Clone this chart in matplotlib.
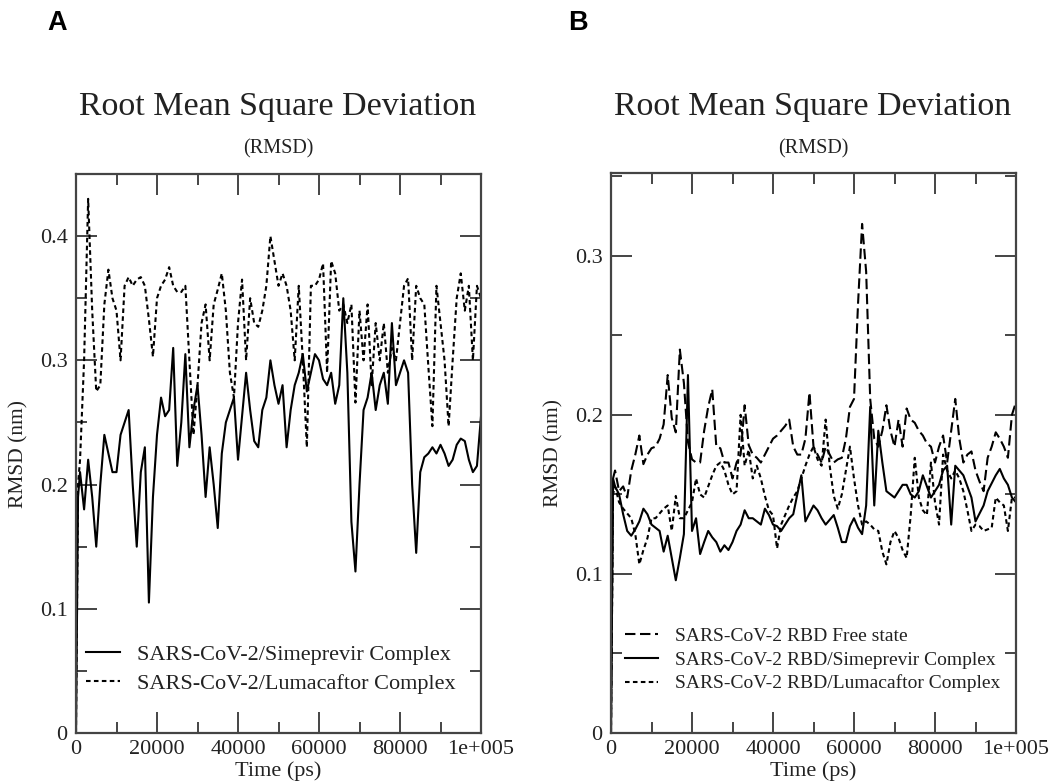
import matplotlib
matplotlib.use("Agg")
import matplotlib.pyplot as plt
from matplotlib.ticker import MultipleLocator, FixedLocator, FixedFormatter

plt.rcParams['font.family'] = ['Liberation Serif', 'DejaVu Serif']

# ---------------- data ----------------
time_ps = [0, 500] + [1000 * k for k in range(1, 101)]

# Panel A
rmsd_simeprevir_A = [
    0.0, 0.19, 0.21, 0.18, 0.22, 0.19, 0.15, 0.20, 0.24, 0.225, 0.21,
    0.21, 0.24, 0.25, 0.26, 0.20, 0.15, 0.21, 0.23, 0.105, 0.19,
    0.24, 0.27, 0.255, 0.26, 0.31, 0.215, 0.25, 0.305, 0.23, 0.26,
    0.28, 0.24, 0.19, 0.23, 0.20, 0.165, 0.225, 0.25, 0.26, 0.27,
    0.22, 0.255, 0.29, 0.26, 0.235, 0.23, 0.26, 0.27, 0.30, 0.28,
    0.265, 0.28, 0.23, 0.26, 0.28, 0.29, 0.305, 0.275, 0.29, 0.305,
    0.30, 0.285, 0.28, 0.29, 0.265, 0.28, 0.35, 0.29, 0.17, 0.13,
    0.20, 0.26, 0.27, 0.29, 0.26, 0.28, 0.29, 0.265, 0.33, 0.28,
    0.29, 0.30, 0.29, 0.20, 0.145, 0.21, 0.222, 0.225, 0.23, 0.225,
    0.232, 0.225, 0.215, 0.22, 0.232, 0.237, 0.235, 0.22, 0.21, 0.215, 0.255,
]
rmsd_lumacaftor_A = [
    0.0, 0.20, 0.22, 0.30, 0.43, 0.34, 0.275, 0.28, 0.345, 0.373, 0.35,
    0.34, 0.30, 0.36, 0.367, 0.36, 0.365, 0.367, 0.36, 0.333, 0.303,
    0.35, 0.36, 0.365, 0.375, 0.36, 0.355, 0.355, 0.36, 0.30, 0.24,
    0.28, 0.33, 0.345, 0.30, 0.345, 0.357, 0.37, 0.34, 0.29, 0.27,
    0.33, 0.365, 0.30, 0.35, 0.33, 0.327, 0.34, 0.36, 0.40, 0.38,
    0.36, 0.37, 0.36, 0.34, 0.30, 0.36, 0.30, 0.23, 0.36, 0.36,
    0.365, 0.378, 0.29, 0.38, 0.37, 0.34, 0.345, 0.33, 0.345, 0.266,
    0.34, 0.30, 0.345, 0.28, 0.33, 0.30, 0.33, 0.29, 0.31, 0.30,
    0.33, 0.36, 0.366, 0.30, 0.36, 0.35, 0.345, 0.295, 0.247, 0.36,
    0.33, 0.30, 0.247, 0.30, 0.35, 0.37, 0.34, 0.36, 0.30, 0.36, 0.35,
]

# Panel B
rmsd_free_B = [
    0.0, 0.16, 0.165, 0.152, 0.155, 0.148, 0.165, 0.175, 0.187, 0.169, 0.175,
    0.179, 0.18, 0.185, 0.194, 0.225, 0.198, 0.189, 0.241, 0.22, 0.183,
    0.172, 0.17, 0.17, 0.19, 0.205, 0.216, 0.18, 0.179, 0.17, 0.17,
    0.16, 0.17, 0.175, 0.206, 0.181, 0.175, 0.173, 0.17, 0.175, 0.18,
    0.185, 0.187, 0.19, 0.193, 0.197, 0.18, 0.175, 0.175, 0.185, 0.214,
    0.18, 0.175, 0.17, 0.18, 0.175, 0.17, 0.172, 0.173, 0.185, 0.205,
    0.21, 0.27, 0.32, 0.29, 0.21, 0.185, 0.18, 0.19, 0.206, 0.19,
    0.18, 0.197, 0.18, 0.204, 0.197, 0.195, 0.19, 0.187, 0.182, 0.18,
    0.17, 0.18, 0.187, 0.17, 0.19, 0.21, 0.185, 0.17, 0.175, 0.177,
    0.165, 0.158, 0.152, 0.173, 0.18, 0.189, 0.185, 0.18, 0.173, 0.20, 0.208,
]
rmsd_simeprevir_B = [
    0.0, 0.16, 0.155, 0.15, 0.1375, 0.127, 0.124, 0.128, 0.133, 0.141, 0.1375,
    0.131, 0.129, 0.127, 0.114, 0.124, 0.11, 0.096, 0.11, 0.125, 0.225,
    0.127, 0.135, 0.1125, 0.12, 0.127, 0.123, 0.12, 0.114, 0.118, 0.115,
    0.12, 0.127, 0.131, 0.14, 0.135, 0.135, 0.133, 0.131, 0.141, 0.137,
    0.131, 0.13, 0.127, 0.131, 0.135, 0.1375, 0.15, 0.162, 0.133, 0.138,
    0.143, 0.14, 0.135, 0.131, 0.134, 0.137, 0.129, 0.12, 0.12, 0.13,
    0.135, 0.129, 0.125, 0.143, 0.205, 0.143, 0.19, 0.17, 0.152, 0.15,
    0.148, 0.152, 0.156, 0.156, 0.15, 0.148, 0.152, 0.162, 0.155, 0.148,
    0.152, 0.156, 0.165, 0.168, 0.131, 0.168, 0.165, 0.162, 0.155, 0.148,
    0.133, 0.138, 0.143, 0.152, 0.157, 0.162, 0.166, 0.16, 0.156, 0.148, 0.145,
]
rmsd_lumacaftor_B = [
    0.0, 0.15, 0.155, 0.145, 0.141, 0.138, 0.135, 0.125, 0.106, 0.115, 0.1225,
    0.135, 0.135, 0.138, 0.141, 0.143, 0.127, 0.149, 0.135, 0.135, 0.14,
    0.145, 0.16, 0.15, 0.148, 0.155, 0.162, 0.168, 0.17, 0.165, 0.156,
    0.15, 0.152, 0.20, 0.168, 0.178, 0.16, 0.168, 0.16, 0.149, 0.14,
    0.137, 0.116, 0.131, 0.137, 0.143, 0.148, 0.152, 0.16, 0.168, 0.175,
    0.18, 0.172, 0.168, 0.197, 0.168, 0.149, 0.141, 0.15, 0.165, 0.18,
    0.16, 0.143, 0.131, 0.133, 0.131, 0.128, 0.127, 0.114, 0.106, 0.12,
    0.127, 0.1225, 0.115, 0.11, 0.137, 0.173, 0.148, 0.14, 0.137, 0.17,
    0.145, 0.131, 0.175, 0.165, 0.16, 0.165, 0.16, 0.152, 0.14, 0.127,
    0.131, 0.13, 0.127, 0.128, 0.129, 0.148, 0.145, 0.143, 0.127, 0.148, 0.148,
]

x_ticks = [0, 20000, 40000, 60000, 80000, 100000]
x_tick_labels = ['0', '20000', '40000', '60000', '80000', '1e+005']
yticks_A = [0, 0.1, 0.2, 0.3, 0.4]
ytick_labels_A = ['0', '0.1', '0.2', '0.3', '0.4']
yticks_B = [0, 0.1, 0.2, 0.3]
ytick_labels_B = ['0', '0.1', '0.2', '0.3']

labels_A = ['SARS-CoV-2/Simeprevir Complex', 'SARS-CoV-2/Lumacaftor Complex']
labels_B = ['SARS-CoV-2 RBD Free state', 'SARS-CoV-2 RBD/Simeprevir Complex',
            'SARS-CoV-2 RBD/Lumacaftor Complex']

# ---------------- figure ----------------
W, H = 1059, 784
fig = plt.figure(figsize=(W / 100, H / 100), dpi=100)
fig.patch.set_facecolor('white')

def px_axes(l, t, r, b):
    return fig.add_axes([l / W, 1 - b / H, (r - l) / W, (b - t) / H])

axA = px_axes(76, 174, 481, 733)
axB = px_axes(611, 173, 1016, 733)

spine_col = '#444444'
text_col = '#222222'
LW = 1.5
short_dash = (0, (2.2, 1.6))
long_dash = (0, (5, 2.2))

def style(ax, ymax, yticks, ylabels):
    ax.set_xlim(0, 100000)
    ax.set_ylim(0, ymax)
    ax.xaxis.set_major_locator(FixedLocator(x_ticks))
    ax.xaxis.set_major_formatter(FixedFormatter(x_tick_labels))
    ax.xaxis.set_minor_locator(MultipleLocator(10000))
    ax.yaxis.set_major_locator(FixedLocator(yticks))
    ax.yaxis.set_major_formatter(FixedFormatter(ylabels))
    ax.yaxis.set_minor_locator(MultipleLocator(0.05))
    ax.tick_params(which='both', direction='in', top=True, right=True,
                   color=spine_col, width=1.4, labelsize=16,
                   labelcolor=text_col)
    ax.tick_params(axis='x', pad=5)
    ax.tick_params(axis='y', pad=6)
    ax.tick_params(which='major', length=15)
    ax.tick_params(which='minor', length=8)
    for s in ax.spines.values():
        s.set_color(spine_col)
        s.set_linewidth(1.6)
    ax.set_xlabel('Time (ps)', fontsize=16, color=text_col, labelpad=2)
    ax.set_ylabel('RMSD (nm)', fontsize=15.5, color=text_col, labelpad=8)

# Panel A
axA.plot(time_ps, rmsd_simeprevir_A, color='black', lw=LW, ls='-', label=labels_A[0])
axA.plot(time_ps, rmsd_lumacaftor_A, color='black', lw=LW, ls=short_dash, label=labels_A[1])
style(axA, 0.45, yticks_A, ytick_labels_A)
axA.legend(loc='center left', bbox_to_anchor=(86 / W, 1 - 669 / H),
           bbox_transform=fig.transFigure, frameon=False, fontsize=16,
           handlelength=1.55, handletextpad=0.75, labelspacing=0.40,
           borderpad=0, borderaxespad=0, labelcolor=text_col)

# Panel B
axB.plot(time_ps, rmsd_free_B, color='black', lw=LW, ls=long_dash, label=labels_B[0])
axB.plot(time_ps, rmsd_simeprevir_B, color='black', lw=LW, ls='-', label=labels_B[1])
axB.plot(time_ps, rmsd_lumacaftor_B, color='black', lw=LW, ls=short_dash, label=labels_B[2])
style(axB, 0.352, yticks_B, ytick_labels_B)
axB.legend(loc='center left', bbox_to_anchor=(625 / W, 1 - 660 / H),
           bbox_transform=fig.transFigure, frameon=False, fontsize=14,
           handlelength=1.7, handletextpad=0.85, labelspacing=0.30,
           borderpad=0, borderaxespad=0, labelcolor=text_col)

# Titles and panel letters
for cx in (278, 813):
    fig.text(cx / W, 1 - 107 / H, 'Root Mean Square Deviation', ha='center',
             va='center', fontsize=24.5, color=text_col)
    fig.text(cx / W, 1 - 149 / H, '(RMSD)', ha='center', va='center',
             fontsize=14.5, color=text_col)
fig.text(57 / W, 1 - 23 / H, 'A', ha='center', va='center', fontsize=19.5,
         fontweight='bold', family='Liberation Sans', color='black')
fig.text(578 / W, 1 - 23 / H, 'B', ha='center', va='center', fontsize=19.5,
         fontweight='bold', family='Liberation Sans', color='black')

fig.savefig('out.png', dpi=100, facecolor='white')
